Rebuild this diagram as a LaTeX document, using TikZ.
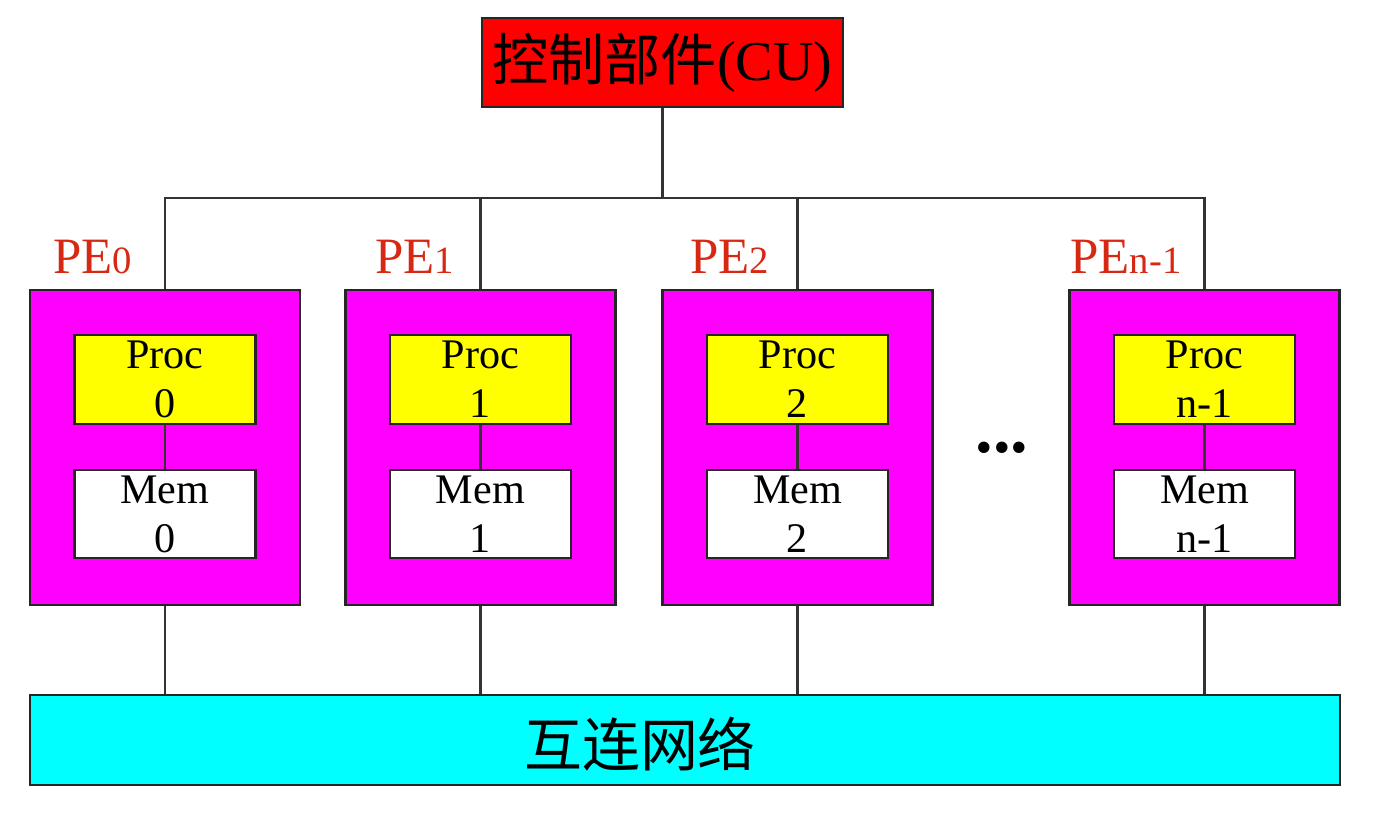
\documentclass[tikz,border=0pt]{standalone}
\usepackage{fontspec}
\setmainfont{Liberation Serif}
\newfontfamily\cjk{Noto Sans CJK SC}
\usetikzlibrary{calc}
\definecolor{cured}{RGB}{255,0,0}
\definecolor{pemag}{RGB}{255,0,255}
\definecolor{procyel}{RGB}{255,255,0}
\definecolor{netcyan}{RGB}{0,255,255}
\definecolor{labred}{RGB}{215,40,20}
\newcommand{\idx}[1]{{\fontsize{22}{24}\selectfont #1}}

\begin{document}
\begin{tikzpicture}[x=0.02cm, y=-0.02cm,
		wire/.style={line width=1.2pt, color=black!80},
		box/.style={draw=black!85, line width=1.3pt, inner sep=0pt, align=center},
		pebox/.style={box, fill=pemag, minimum width=5.4cm, minimum height=6.3cm},
		procbox/.style={box, fill=procyel, minimum width=3.62cm, minimum height=1.78cm, font=\fontsize{24}{28}\selectfont},
		membox/.style={box, fill=white, minimum width=3.62cm, minimum height=1.76cm, font=\fontsize{24}{28}\selectfont},
		pelabel/.style={anchor=base west, inner sep=0pt, color=labred, font=\fontsize{29}{32}\selectfont}]
			%%%%% START %%%%%
			
			\useasboundingbox (0, 0) rectangle (1384, 822);
			
			\node[box, fill=cured, minimum width=7.22cm, minimum height=1.78cm, font=\fontsize{32}{36}\selectfont] (cu) at (662.5, 62.5) {{\cjk 控制部件}(CU)};
			
			\node[pebox] (pe0) at (165, 447.5) {};
			\node[pebox] (pe1) at (480.5, 447.5) {};
			\node[pebox] (pe2) at (797.5, 447.5) {};
			\node[pebox] (pen) at (1204.5, 447.5) {};
			
			\node[pelabel] (lab0) at (53, 273) {PE\idx{0}};
			\node[pelabel] (lab1) at (375, 273) {PE\idx{1}};
			\node[pelabel] (lab2) at (690, 273) {PE\idx{2}};
			\node[pelabel] (labn) at (1070, 273) {PE\idx{n-1}};
			
			\node[procbox] (proc0) at (165, 379.5) {Proc\\0};
			\node[procbox] (proc1) at (480.5, 379.5) {Proc\\1};
			\node[procbox] (proc2) at (797.5, 379.5) {Proc\\2};
			\node[procbox] (procn) at (1204.5, 379.5) {Proc\\n-1};
			
			\node[membox] (mem0) at (165, 514) {Mem\\0};
			\node[membox] (mem1) at (480.5, 514) {Mem\\1};
			\node[membox] (mem2) at (797.5, 514) {Mem\\2};
			\node[membox] (memn) at (1204.5, 514) {Mem\\n-1};
			
			\node[anchor=base, inner sep=0pt, font=\fontsize{40}{44}\selectfont\bfseries] (dots) at (1002, 452) {...};
			
			\node[box, fill=netcyan, minimum width=26.2cm, minimum height=1.8cm] (net) at (685, 740) {};
			\node[font=\fontsize{33}{38}\selectfont\cjk, inner sep=0pt] (nettext) at (640, 744) {互连网络};
			
			% bus from the control unit
			\coordinate (bus) at (662.5, 198);
			\draw[wire] (cu.south) -- (bus);
			\draw[wire] (pe0.north) |- (bus) -| (pen.north);
			\draw[wire] (pe1.north) -- (pe1.north |- bus);
			\draw[wire] (pe2.north) -- (pe2.north |- bus);
			
			% inside the PEs
			\draw[wire] (proc0) -- (mem0);
			\draw[wire] (proc1) -- (mem1);
			\draw[wire] (proc2) -- (mem2);
			\draw[wire] (procn) -- (memn);
			
			% down to the network
			\draw[wire] (pe0.south) -- (pe0.south |- net.north);
			\draw[wire] (pe1.south) -- (pe1.south |- net.north);
			\draw[wire] (pe2.south) -- (pe2.south |- net.north);
			\draw[wire] (pen.south) -- (pen.south |- net.north);
			
			%%%%% END %%%%%
\end{tikzpicture}
\end{document}
